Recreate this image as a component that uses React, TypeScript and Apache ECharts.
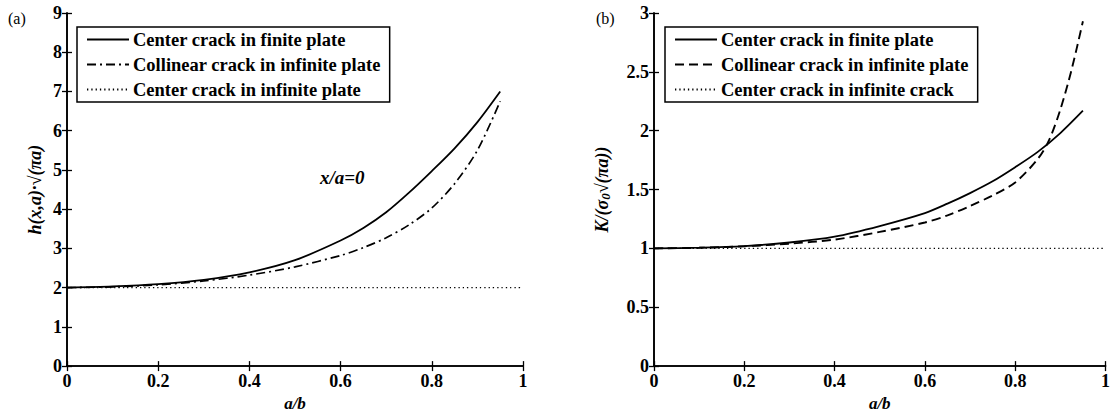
import React, { useEffect, useRef } from "react";
import * as echarts from "echarts";

// ---- data ----
const xTicks = ["0", "0.2", "0.4", "0.6", "0.8", "1"];
const aX = [0, 0.1, 0.2, 0.3, 0.4, 0.5, 0.6, 0.65, 0.7, 0.75, 0.8, 0.85, 0.9, 0.95];
const aFinite = [2.0, 2.03, 2.09, 2.2, 2.39, 2.7, 3.2, 3.52, 3.92, 4.42, 4.97, 5.55, 6.22, 7.0];
const aCollinear = [2.0, 2.02, 2.07, 2.17, 2.32, 2.53, 2.82, 3.02, 3.27, 3.6, 4.03, 4.65, 5.5, 6.75];
const aInfiniteX = [0, 1];
const aInfinite = [2.0, 2.0];

const bX = [0, 0.1, 0.2, 0.3, 0.4, 0.5, 0.6, 0.65, 0.7, 0.75, 0.8, 0.85, 0.9, 0.95];
const bFinite = [1.0, 1.006, 1.02, 1.05, 1.1, 1.19, 1.3, 1.38, 1.47, 1.57, 1.69, 1.82, 1.98, 2.17];
const bCollX = [0, 0.1, 0.2, 0.3, 0.4, 0.5, 0.6, 0.65, 0.7, 0.75, 0.8, 0.85, 0.875, 0.9, 0.925, 0.95];
const bCollinear = [1.0, 1.005, 1.018, 1.04, 1.075, 1.14, 1.22, 1.28, 1.36, 1.45, 1.56, 1.76, 1.92, 2.18, 2.52, 2.93];
const bInfiniteX = [0, 1];
const bInfinite = [1.0, 1.0];

const namesA = ["Center crack in finite plate", "Collinear crack in infinite plate", "Center crack in infinite plate"];
// trailing spaces keep the two legends independent; the legend formatter trims them
const namesB = ["Center crack in finite plate ", "Collinear crack in infinite plate ", "Center crack in infinite crack "];

const FONT = "'Liberation Serif', 'Times New Roman', serif";

function pairs(xs: number[], ys: number[]) {
  return xs.map((x, i) => [x, ys[i]]);
}

export default function App() {
  const ref = useRef<HTMLDivElement>(null);
  useEffect(() => {
    if (!ref.current) return;
    const chart = echarts.init(ref.current, undefined, { renderer: "svg" });

    const axisLine = { show: true, lineStyle: { color: "#000", width: 1.6 } };
    const tick = { show: true, inside: true, length: 5, lineStyle: { color: "#000", width: 1.3 } };
    const label = { color: "#000", fontFamily: FONT, fontSize: 18, fontWeight: "bold" as const };

    const xAxisFor = (grid: number) => [
      {
        type: "value", gridIndex: grid, min: 0, max: 1, interval: 0.2, position: "bottom",
        axisLine, axisTick: tick, splitLine: { show: false },
        axisLabel: { ...label, margin: 6, formatter: (v: number) => xTicks[Math.round(v / 0.2)] },
        name: "a/b", nameLocation: "middle", nameGap: 24,
        nameTextStyle: { color: "#000", fontFamily: FONT, fontSize: 17, fontWeight: "bold", fontStyle: "italic" },
      },
      {
        type: "value", gridIndex: grid, min: 0, max: 1, interval: 0.2, position: "top",
        axisLine, axisTick: tick, splitLine: { show: false }, axisLabel: { show: false },
      },
    ];

    const yAxisFor = (grid: number, max: number, interval: number, name: string, gap: number) => [
      {
        type: "value", gridIndex: grid, min: 0, max, interval, position: "left",
        axisLine, axisTick: tick, splitLine: { show: false },
        axisLabel: { ...label, margin: 5 },
        name, nameLocation: "middle", nameGap: gap,
        nameTextStyle: {
          color: "#000", fontFamily: FONT, fontSize: 18, fontWeight: "bold", fontStyle: "italic",
          rich: {
            sub: { fontFamily: FONT, fontSize: 13, fontWeight: "bold", verticalAlign: "bottom", padding: [7, 0, 0, 0] },
          },
        },
      },
      {
        type: "value", gridIndex: grid, min: 0, max, interval, position: "right",
        axisLine, axisTick: tick, splitLine: { show: false }, axisLabel: { show: false },
      },
    ];

    const lineS = (name: string, data: number[][], xi: number, yi: number, type: any, width = 1.6) => ({
      type: "line", name, data, xAxisIndex: xi, yAxisIndex: yi, symbol: "none",
      smooth: 0.3,
      lineStyle: { color: "#000", width, type },
      itemStyle: { color: "#000" },
    });

    const legendCommon = {
      orient: "vertical",
      itemWidth: 42,
      itemHeight: 10,
      itemGap: 6,
      padding: [3, 9, 3, 9],
      borderColor: "#000",
      borderWidth: 1.5,
      backgroundColor: "#fff",
      selectedMode: false,
      itemStyle: { opacity: 0 },
      formatter: (n: string) => n.trim(),
      textStyle: { color: "#000", fontFamily: FONT, fontSize: 18.5, fontWeight: "bold", lineHeight: 18, padding: [0, 0, 0, -1] },
    };

    chart.setOption({
      animation: false,
      backgroundColor: "#fff",
      grid: [
        { left: 67, top: 13, width: 456, height: 360 },
        { left: 654, top: 13, width: 457, height: 360 },
      ],
      xAxis: [...xAxisFor(0), ...xAxisFor(1)],
      yAxis: [
        ...yAxisFor(0, 9, 1, "h(x,a)·√(πa)", 23),
        ...yAxisFor(1, 3, 0.5, "K/(σ{sub|0}√(πa))", 42),
      ],
      legend: [
        { ...legendCommon, left: 77, top: 27, data: namesA },
        { ...legendCommon, left: 665, top: 27, data: namesB },
      ],
      series: [
        lineS(namesA[0], pairs(aX, aFinite), 0, 0, "solid", 1.8),
        lineS(namesA[1], pairs(aX, aCollinear), 0, 0, [9, 4, 2, 4], 1.7),
        lineS(namesA[2], pairs(aInfiniteX, aInfinite), 0, 0, [1.3, 3], 1.3),
        lineS(namesB[0], pairs(bX, bFinite), 2, 2, "solid", 1.8),
        lineS(namesB[1], pairs(bCollX, bCollinear), 2, 2, [9, 5], 1.9),
        lineS(namesB[2], pairs(bInfiniteX, bInfinite), 2, 2, [1.3, 3], 1.3),
      ],
      graphic: [
        { type: "text", left: 8, top: 10, style: { text: "(a)", fontFamily: FONT, fontSize: 16, fill: "#000" } },
        { type: "text", left: 596, top: 10, style: { text: "(b)", fontFamily: FONT, fontSize: 16, fill: "#000" } },
        {
          type: "text", left: 320, top: 168,
          style: { text: "x/a=0", fontFamily: FONT, fontSize: 19, fontWeight: "bold", fontStyle: "italic", fill: "#000" },
        },
      ],
    });
    return () => chart.dispose();
  }, []);
  return <div ref={ref} style={{ position: "fixed", left: 0, top: 0, width: 1113, height: 417 }} />;
}
